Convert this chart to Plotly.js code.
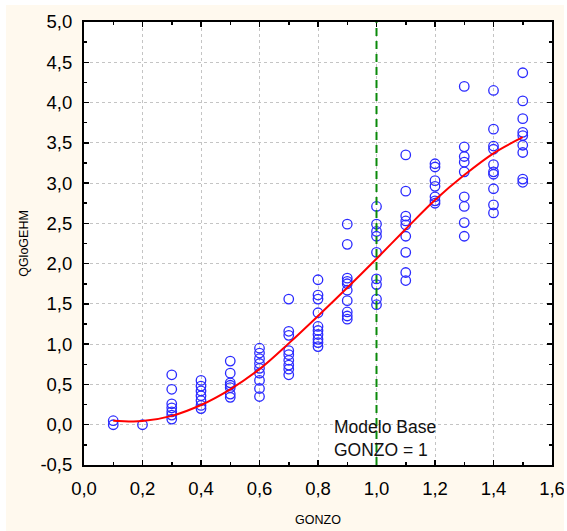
<!DOCTYPE html>
<html>
<head>
<meta charset="utf-8">
<script src="https://cdn.plot.ly/plotly-3.0.1.min.js"></script>
<style>html,body{margin:0;padding:0;background:#ffffff;}#chart{width:567px;height:531px;}</style>
</head>
<body>
<div id="chart"></div>
<script>
// Observed data: GONZO levels and QGloGEHM values read per level
const gonzoLevels = [0.1, 0.2, 0.3, 0.4, 0.5, 0.6, 0.7, 0.8, 0.9, 1.0, 1.1, 1.2, 1.3, 1.4, 1.5];
const q01 = [0.05, 0.0];
const q02 = [0.0];
const q03 = [0.62, 0.44, 0.26, 0.21, 0.16, 0.12, 0.07];
const q04 = [0.55, 0.48, 0.42, 0.36, 0.30, 0.24, 0.20];
const q05 = [0.79, 0.64, 0.52, 0.49, 0.46, 0.38, 0.34];
const q06 = [0.95, 0.89, 0.82, 0.76, 0.70, 0.64, 0.55, 0.45, 0.35];
const q07 = [1.56, 1.16, 1.11, 0.92, 0.87, 0.80, 0.74, 0.69, 0.62];
const q08 = [1.80, 1.61, 1.56, 1.39, 1.22, 1.17, 1.12, 1.06, 1.02, 0.97];
const q09 = [2.49, 2.24, 1.82, 1.78, 1.75, 1.67, 1.54, 1.40, 1.35, 1.31];
const q10 = [2.71, 2.49, 2.40, 2.34, 2.14, 1.81, 1.74, 1.56, 1.49];
const q11 = [3.35, 2.90, 2.59, 2.53, 2.48, 2.34, 2.14, 1.89, 1.79];
const q12 = [3.24, 3.20, 3.03, 2.96, 2.83, 2.78, 2.75];
const q13 = [4.20, 3.45, 3.33, 3.26, 3.14, 2.83, 2.71, 2.51, 2.34];
const q14 = [4.15, 3.67, 3.46, 3.42, 3.23, 3.14, 3.11, 2.93, 2.73, 2.63];
const q15 = [4.37, 4.02, 3.80, 3.63, 3.59, 3.47, 3.38, 3.05, 3.01];

// Fitted curve
const fitX = [0.1, 0.2, 0.3, 0.4, 0.5, 0.6, 0.7, 0.8, 0.9, 1.0, 1.1, 1.2, 1.3, 1.4, 1.5];
const fitY = [0.05, 0.045, 0.11, 0.245, 0.44, 0.69, 1.01, 1.35, 1.70, 2.06, 2.43, 2.79, 3.10, 3.37, 3.57];

// Tick labels
const yTickVals = [-0.5, 0, 0.5, 1, 1.5, 2, 2.5, 3, 3.5, 4, 4.5, 5];
const yTickText = ['-0,5', '0,0', '0,5', '1,0', '1,5', '2,0', '2,5', '3,0', '3,5', '4,0', '4,5', '5,0'];
const xTickVals = [0, 0.2, 0.4, 0.6, 0.8, 1.0, 1.2, 1.4, 1.6];
const xTickText = ['0,0', '0,2', '0,4', '0,6', '0,8', '1,0', '1,2', '1,4', '1,6'];

// Reference line and its label
const refX = 1.0;
const refLabel = 'Modelo Base<br>GONZO = 1';

const xTitle = 'GONZO';
const yTitle = 'QGloGEHM';

const groups = [q01, q02, q03, q04, q05, q06, q07, q08, q09, q10, q11, q12, q13, q14, q15];
const px = [], py = [];
groups.forEach((g, i) => g.forEach(v => { px.push(gonzoLevels[i]); py.push(v); }));

const FONT = 'Liberation Sans, Arial, sans-serif';

const traces = [
  {
    x: px, y: py, type: 'scatter', mode: 'markers',
    marker: {symbol: 'circle-open', size: 9.5, color: '#2a2aff', line: {width: 1.3, color: '#2a2aff'}},
    hoverinfo: 'x+y', showlegend: false
  },
  {
    x: fitX, y: fitY, type: 'scatter', mode: 'lines',
    line: {color: '#ff0000', width: 2, shape: 'spline', smoothing: 1},
    showlegend: false
  }
];

const axisCommon = {
  ticks: 'inside', ticklen: 5, tickwidth: 1.5, tickcolor: '#000',
  mirror: 'allticks', showline: true, linecolor: '#000', linewidth: 2,
  showgrid: true, gridcolor: '#c4c4c4', griddash: 'dot', gridwidth: 1,
  zeroline: false,
  tickfont: {family: FONT, size: 18.5, color: '#000'}
};

const layout = {
  width: 567, height: 531,
  margin: {l: 84, r: 15, t: 22, b: 66, pad: 0},
  paper_bgcolor: '#fff9ee',
  plot_bgcolor: '#ffffff',
  font: {family: FONT, color: '#000'},
  showlegend: false,
  xaxis: Object.assign({}, axisCommon, {
    range: [0, 1.6], tickmode: 'array', tickvals: xTickVals, ticktext: xTickText,
    minor: {ticks: 'inside', tick0: 0, dtick: 0.1, ticklen: 3, tickwidth: 1.5, tickcolor: '#000', showgrid: false},
    ticklabelstandoff: 6,
    title: {text: xTitle, font: {family: FONT, size: 12.5, color: '#000'}, standoff: 17}
  }),
  yaxis: Object.assign({}, axisCommon, {
    range: [-0.5, 5.0], tickmode: 'array', tickvals: yTickVals, ticktext: yTickText,
    minor: {ticks: 'inside', tick0: 0, dtick: 0.25, ticklen: 3, tickwidth: 1.5, tickcolor: '#000', showgrid: false},
    ticklabelstandoff: 6,
    title: {text: yTitle, font: {family: FONT, size: 12.5, color: '#000'}, standoff: 9}
  }),
  shapes: [
    {type: 'line', xref: 'x', yref: 'paper', x0: refX, x1: refX, y0: 0, y1: 1,
     line: {color: '#0a8a0a', width: 2, dash: '8px,5px'}, layer: 'above'},
    {type: 'rect', xref: 'paper', yref: 'paper', x0: -0.2, x1: -0.1667, y0: -0.2, y1: 1.1,
     fillcolor: '#ffffff', line: {width: 0}},
    {type: 'rect', xref: 'paper', yref: 'paper', x0: -0.2, x1: 1.1, y0: 1.0384, y1: 1.1,
     fillcolor: '#ffffff', line: {width: 0}},
    {type: 'rect', xref: 'paper', yref: 'paper', x0: 1.0256, x1: 1.1, y0: -0.2, y1: 1.1,
     fillcolor: '#ffffff', line: {width: 0}}
  ],
  annotations: [
    {xref: 'x', yref: 'y', x: 0.848, y: -0.165, xanchor: 'left', yanchor: 'middle',
     text: refLabel, showarrow: false, align: 'left',
     font: {family: FONT, size: 17.5, color: '#111'}}
  ]
};

Plotly.newPlot('chart', traces, layout, {displayModeBar: false, staticPlot: true});
</script>
</body>
</html>
